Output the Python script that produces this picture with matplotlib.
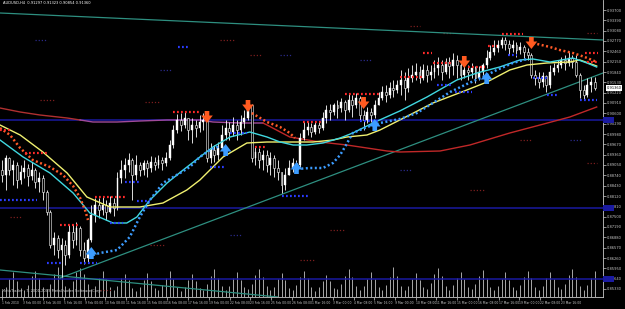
import numpy as np
import matplotlib
matplotlib.use("Agg")
import matplotlib.pyplot as plt
from matplotlib.patches import Rectangle
from matplotlib.transforms import blended_transform_factory

title = "AUDUSD,H4  0.91297 0.91323 0.90854 0.91360"
copyright_text = "MetaTrader - 7, 2001-2009 MetaQuotes Software Corp."

first_open = 0.8890
close = [0.8875,0.8926,0.8890,0.8905,0.8860,0.8884,0.8896,0.8872,0.8890,0.8854,
         0.8866,0.8824,0.8764,0.8665,0.8686,0.8650,0.8665,0.8635,0.8704,0.8680,
         0.8716,0.8650,0.8626,0.8680,0.8755,0.8785,0.8770,0.8785,0.8764,0.8791,
         0.8776,0.8866,0.8890,0.8905,0.8920,0.8875,0.8905,0.8890,0.8911,0.8896,
         0.8914,0.8905,0.8920,0.8911,0.8926,0.8965,0.9010,0.9040,0.9025,0.9046,
         0.9010,0.9025,0.9016,0.9034,0.9040,0.8926,0.8950,0.8935,0.8956,0.8995,
         0.9016,0.9004,0.9025,0.9010,0.9034,0.9046,0.9085,0.8926,0.8944,0.8920,
         0.8935,0.8905,0.8926,0.8896,0.8884,0.8845,0.8875,0.8896,0.8911,0.8905,
         0.8986,0.9010,0.9019,0.9004,0.9025,0.9016,0.9046,0.9070,0.9064,0.9085,
         0.9076,0.9094,0.9070,0.9100,0.9085,0.9106,0.9055,0.9040,0.9064,0.9055,
         0.9085,0.9106,0.9124,0.9115,0.9136,0.9130,0.9145,0.9160,0.9136,0.9166,
         0.9175,0.9184,0.9166,0.9190,0.9175,0.9184,0.9196,0.9205,0.9184,0.9214,
         0.9202,0.9220,0.9205,0.9175,0.9190,0.9184,0.9196,0.9166,0.9184,0.9205,
         0.9226,0.9244,0.9256,0.9265,0.9280,0.9268,0.9256,0.9265,0.9250,0.9259,
         0.9244,0.9235,0.9175,0.9166,0.9154,0.9172,0.9145,0.9184,0.9196,0.9205,
         0.9220,0.9211,0.9226,0.9214,0.9175,0.9130,0.9115,0.9145,0.9154,0.9136]
high = [0.8920,0.8935,0.8929,0.8920,0.8914,0.8905,0.8920,0.8908,0.8914,0.8896,
        0.8884,0.8875,0.8830,0.8770,0.8704,0.8695,0.8686,0.8680,0.8725,0.8728,
        0.8734,0.8722,0.8674,0.8686,0.8785,0.8806,0.8806,0.8809,0.8800,0.8812,
        0.8806,0.8884,0.8920,0.8926,0.8941,0.8926,0.8935,0.8914,0.8920,0.8920,
        0.8932,0.8929,0.8935,0.8929,0.8944,0.8980,0.9025,0.9058,0.9061,0.9064,
        0.9046,0.9046,0.9040,0.9055,0.9061,0.9049,0.8971,0.8965,0.8974,0.9025,
        0.9040,0.9034,0.9049,0.9040,0.9055,0.9070,0.9100,0.9088,0.8959,0.8956,
        0.8950,0.8950,0.8944,0.8935,0.8920,0.8884,0.8896,0.8920,0.8926,0.8920,
        0.9001,0.9034,0.9034,0.9031,0.9034,0.9034,0.9064,0.9085,0.9088,0.9091,
        0.9100,0.9106,0.9100,0.9121,0.9115,0.9121,0.9112,0.9070,0.9079,0.9076,
        0.9100,0.9124,0.9142,0.9145,0.9154,0.9160,0.9160,0.9190,0.9184,0.9196,
        0.9205,0.9211,0.9202,0.9208,0.9205,0.9205,0.9220,0.9229,0.9220,0.9226,
        0.9229,0.9241,0.9235,0.9214,0.9214,0.9205,0.9211,0.9202,0.9202,0.9211,
        0.9250,0.9265,0.9280,0.9280,0.9289,0.9289,0.9280,0.9280,0.9274,0.9274,
        0.9265,0.9256,0.9241,0.9190,0.9184,0.9184,0.9175,0.9205,0.9211,0.9220,
        0.9229,0.9235,0.9244,0.9235,0.9235,0.9181,0.9145,0.9166,0.9169,0.9169]
low = [0.8854,0.8830,0.8875,0.8845,0.8836,0.8848,0.8866,0.8842,0.8860,0.8836,
       0.8824,0.8800,0.8755,0.8656,0.8635,0.8626,0.8569,0.8605,0.8626,0.8656,
       0.8665,0.8632,0.8608,0.8614,0.8674,0.8734,0.8746,0.8755,0.8740,0.8761,
       0.8752,0.8770,0.8851,0.8866,0.8884,0.8800,0.8860,0.8872,0.8875,0.8869,
       0.8884,0.8890,0.8896,0.8890,0.8902,0.8920,0.8956,0.9001,0.9007,0.9016,
       0.8980,0.8971,0.8989,0.9004,0.9010,0.8914,0.8911,0.8914,0.8920,0.8950,
       0.8980,0.8980,0.8992,0.8980,0.8995,0.9016,0.9040,0.8914,0.8905,0.8896,
       0.8890,0.8884,0.8875,0.8869,0.8860,0.8821,0.8830,0.8875,0.8884,0.8890,
       0.8900,0.8980,0.8995,0.8989,0.8998,0.9001,0.9010,0.9031,0.9040,0.9055,
       0.9046,0.9064,0.9040,0.9064,0.9049,0.9076,0.9040,0.9010,0.9031,0.9034,
       0.9046,0.9085,0.9100,0.9094,0.9106,0.9109,0.9121,0.9115,0.9100,0.9124,
       0.9154,0.9160,0.9151,0.9160,0.9154,0.9160,0.9166,0.9175,0.9160,0.9178,
       0.9166,0.9175,0.9166,0.9160,0.9166,0.9160,0.9166,0.9151,0.9160,0.9175,
       0.9196,0.9220,0.9235,0.9244,0.9256,0.9250,0.9235,0.9244,0.9229,0.9238,
       0.9226,0.9220,0.9166,0.9145,0.9136,0.9139,0.9124,0.9136,0.9175,0.9184,
       0.9196,0.9190,0.9202,0.9196,0.9169,0.9106,0.9100,0.9109,0.9124,0.9130]
volume = [220,350,610,820,540,300, 250,410,700,880,620,330, 280,450,760,990,700,380,
          310,520,840,960,760,420, 260,380,640,860,590,330, 230,360,620,780,560,310,
          200,340,580,800,520,290, 240,400,650,870,610,340, 210,330,560,760,540,300,
          250,420,700,930,650,360, 230,380,620,820,580,330, 270,440,720,950,680,370,
          220,350,590,790,560,310, 240,400,660,880,620,340, 200,320,540,740,520,290,
          260,430,700,920,660,360, 230,370,610,830,590,320, 250,410,680,1000,700,380,
          220,360,600,810,570,320, 280,460,760,960,690,380, 240,390,640,850,600,330,
          260,420,690,900,640,350, 230,370,610,820,580,320, 250,400,660,870,620,340,
          240,380,620,840,590,330, 270,440,720,940,670,360, 250,410,650,880]

# moving averages and trailing stops (bar index, price)
yellow_x = [-0.5,4.9,11,17.5,22.8,29,37,43.2,49.6,53.1,59.3,65.7,71.1,83.4,88.8,92.5,
            97.9,101.4,106.7,115.6,124.7,130.1,136.2,140.8,146.1,152.3,155,159.5]
yellow_y = [0.9025,0.8995,0.8944,0.8881,0.8809,0.8779,0.8779,0.8791,0.8830,0.8860,0.8929,
            0.8971,0.8974,0.8974,0.8980,0.8989,0.8995,0.9010,0.9040,0.9091,0.9130,0.9154,
            0.9190,0.9205,0.9211,0.9214,0.9220,0.9202]
cyan_x = [-0.5,5.7,12.9,19.1,23.6,29.8,33.5,36.2,39.7,44.3,48.6,53.1,56.6,61.2,66.5,71.1,
          74.6,78.1,81.8,86.1,90.7,94.1,99.5,106.7,114,122,127.4,133.5,138.9,142.4,147,
          153.1,156.9,159.5]
cyan_y = [0.8980,0.8929,0.8881,0.8821,0.8761,0.8731,0.8731,0.8749,0.8800,0.8851,0.8890,
          0.8929,0.8959,0.8989,0.9004,0.8989,0.8974,0.8965,0.8965,0.8971,0.8986,0.9001,
          0.9031,0.9067,0.9109,0.9160,0.9181,0.9199,0.9220,0.9223,0.9214,0.9226,0.9211,0.9199]
ma_red_x = [-0.5,4.9,10.2,17.5,21]
ma_red_y = [0.9076,0.9064,0.9055,0.9046,0.9040]
ma_violet_x = [21,24.4,30.9,37,44.3,53.1,56.6,63.8,70]
ma_violet_y = [0.9040,0.9034,0.9034,0.9037,0.9040,0.9040,0.9034,0.9031,0.9031]
ma_red2_x = [70,71.1,77.2,85.3,92.5,97.9,103.3,106.7,117.5,125.5,136.2,144.3,152.3,159.5]
ma_red2_y = [0.9031,0.9025,0.8989,0.8974,0.8965,0.8956,0.8947,0.8944,0.8947,0.8965,
             0.9001,0.9025,0.9049,0.9079]

stop_dn = [([-0.5,2.2,4.9,8.3,12.9,16.4,19.1,21,22.3,23.1],
            [0.9016,0.8995,0.8956,0.8920,0.8899,0.8875,0.8842,0.8806,0.8770,0.8740]),
           ([67,71.1,74.6,77.2,78.6], [0.9061,0.9034,0.9019,0.9001,0.8986]),
           ([142.4,147,149.6,153.1,156.3,159.5], [0.9271,0.9259,0.9250,0.9241,0.9229,0.9214])]
stop_up = [([24.4,26.3,30.9,34.3,37,39.7,43.2,47.8,50.4,53.1,55.8,58.5],
            [0.8635,0.8641,0.8650,0.8689,0.8749,0.8800,0.8851,0.8881,0.8899,0.8929,0.8950,0.8962]),
           ([79.1,82.6,86.1,88.8,90.7,92,94.1,97.9,101.4,106.7,111.3,115.6,120.2,124.7,129,
             132.7,137,140.8],
            [0.8893,0.8896,0.8896,0.8911,0.8935,0.8959,0.9001,0.9019,0.9031,0.9043,0.9061,
             0.9091,0.9124,0.9148,0.9169,0.9190,0.9211,0.9223])]

# fractal levels (start bar, end bar, price)
res_levels = [(-0.5,2.2,0.9010),(6.2,12.4,0.8941),(15.6,20.4,0.8725),(25,33.5,0.8809),
              (45.9,53.1,0.9064),(67.9,71.1,0.8959),(80.7,86.1,0.9034),(92,101.4,0.9118),
              (106.7,112.6,0.9169),(112.9,115.3,0.9241),(115.6,121,0.9211),(125,129.5,0.9199),
              (130.3,132.7,0.9262),(134.1,139.7,0.9298),(156.3,159.8,0.9241),(156.9,159.5,0.9214)]
sup_levels = [(-0.5,9.4,0.8800),(12.1,16.1,0.8611),(21,25.5,0.8611),(29,32.5,0.8731),
              (33,37,0.8854),(36.2,39.7,0.8797),(55.8,59.8,0.8899),(61.2,65.7,0.9001),
              (75.1,82.1,0.8812),(96,101.4,0.9037),(116.7,121,0.9145),(121.5,126.1,0.9124),
              (135.7,138.1,0.9235),(142.4,146.1,0.9166),(146.1,148.8,0.9115),(155,159.5,0.9100),
              (47.2,49.9,0.9259)]
dim_red = [(10.2,14.2,0.9100),(38.4,42.4,0.9094),(2.2,5.4,0.8749),(39.7,43.7,0.8665),
           (58.5,62.5,0.9280),(79.9,84,0.8620),(109.4,112.1,0.9322),(118.3,121,0.9301),
           (156.9,159.5,0.8911),(156.9,159.5,0.9301),(88,92,0.8710),(125.5,129.5,0.8830),
           (66.5,69.7,0.9235),(26.3,29.5,0.8530),(138.9,142.1,0.8980)]
dim_blue = [(42.4,45.6,0.9190),(96,99.2,0.9220),(106.7,110,0.8890),(61.2,64.4,0.8695),
            (8.9,12.1,0.9280),(152.3,155.5,0.8980),(74.6,77.8,0.9235)]

h_lines = [0.9040, 0.8776, 0.8563]
trend_lines = [((-0.5,161.2),(0.9361,0.9280)), ((-0.5,74),(0.8590,0.8509)),
               ((15.6,161.2),(0.8566,0.9181))]

down_arrows_x = [55, 66, 97, 124, 142]
down_arrows_y = [0.9049, 0.9082, 0.9091, 0.9214, 0.9271]
up_arrows_x = [24, 60, 79, 100, 130]
up_arrows_y = [0.8641, 0.8950, 0.8896, 0.9025, 0.9166]

time_labels = ["1 Feb 2010","3 Feb 00:00","4 Feb 16:00","5 Feb 16:00","9 Feb 00:00",
               "10 Feb 08:00","11 Feb 16:00","15 Feb 00:00","16 Feb 08:00","17 Feb 16:00",
               "19 Feb 00:00","22 Feb 08:00","23 Feb 16:00","25 Feb 00:00","26 Feb 08:00",
               "1 Mar 16:00","3 Mar 00:00","4 Mar 08:00","5 Mar 16:00","9 Mar 00:00",
               "10 Mar 08:00","11 Mar 16:00","15 Mar 00:00","16 Mar 08:00","17 Mar 16:00",
               "19 Mar 00:00","22 Mar 08:00","23 Mar 16:00"]

n = len(close)
idx = np.arange(n)
opens = np.array([first_open] + close[:-1])
close = np.array(close)

fig = plt.figure(figsize=(6.25, 3.09), dpi=100, facecolor="black")
pos = [0.0, 12 / 309, 603 / 625, 297 / 309]
xlim = (-0.5, 161.2)
fs = 2.6

axv = fig.add_axes(pos, label="vol", zorder=0)
axv.set_facecolor("black")
axv.vlines(idx, 0, volume, color="#a8a8a8", lw=0.7)
axv.set_xlim(xlim)
axv.set_ylim(0, 9900)
axv.axis("off")

ax = fig.add_axes(pos, label="main", zorder=1)
ax.set_facecolor("none")
ax.set_xlim(xlim)
ax.set_ylim(0.8509, 0.9400)

for x0, x1, p in dim_red:
    ax.plot([x0, x1], [p, p], color="#7a1e1e", lw=0.9, ls=(0, (1, 1.5)))
for x0, x1, p in dim_blue:
    ax.plot([x0, x1], [p, p], color="#2a2a88", lw=0.9, ls=(0, (1, 1.5)))

for p in h_lines:
    ax.axhline(p, color="#1a1aa0", lw=1.1)
for xs, ys in trend_lines:
    ax.plot(xs, ys, color="#2e8f80", lw=0.9)

ax.plot(ma_red_x, ma_red_y, color="#b03030", lw=1.0)
ax.plot(ma_violet_x, ma_violet_y, color="#a04a9a", lw=1.0)
ax.plot(ma_red2_x, ma_red2_y, color="#c02828", lw=1.0)

# candles
ax.vlines(idx, low, high, color="white", lw=0.6, zorder=3)
up = close >= opens
body_lo = np.minimum(opens, close)
body_h = np.maximum(np.abs(close - opens), 0.00012)
ax.bar(idx[up], body_h[up], bottom=body_lo[up], width=0.5, color="white",
       edgecolor="white", lw=0.3, zorder=4)
ax.bar(idx[~up], body_h[~up], bottom=body_lo[~up], width=0.5, color="black",
       edgecolor="white", lw=0.4, zorder=4)

ax.plot(yellow_x, yellow_y, color="#f0f070", lw=1.0, zorder=5)
ax.plot(cyan_x, cyan_y, color="#40d8e0", lw=1.0, zorder=5)

for xs, ys in stop_dn:
    ax.plot(xs, ys, color="#ff5a28", lw=1.8, ls=(0, (0.8, 1.0)), zorder=6)
for xs, ys in stop_up:
    ax.plot(xs, ys, color="#3c9cff", lw=1.8, ls=(0, (0.8, 1.0)), zorder=6)

for x0, x1, p in res_levels:
    ax.plot([x0, x1], [p, p], color="#ff2a2a", lw=1.6, ls=(0, (0.8, 1.0)), zorder=6)
for x0, x1, p in sup_levels:
    ax.plot([x0, x1], [p, p], color="#2a3cff", lw=1.6, ls=(0, (0.8, 1.0)), zorder=6)

arrow_style = "simple,head_length=0.45,head_width=0.7,tail_width=0.28"
for x, p in zip(down_arrows_x, down_arrows_y):
    ax.annotate("", xy=(x, p - 0.0018), xytext=(x, p + 0.0018),
                arrowprops=dict(arrowstyle=arrow_style, color="#ff5a20", lw=0,
                                mutation_scale=12, shrinkA=0, shrinkB=0), zorder=7)
for x, p in zip(up_arrows_x, up_arrows_y):
    ax.annotate("", xy=(x, p + 0.0018), xytext=(x, p - 0.0018),
                arrowprops=dict(arrowstyle=arrow_style, color="#3c9cff", lw=0,
                                mutation_scale=12, shrinkA=0, shrinkB=0), zorder=7)

# axes styling like the terminal
for s in ["top", "left"]:
    ax.spines[s].set_visible(False)
for s in ["right", "bottom"]:
    ax.spines[s].set_color("#c8c8c8")
    ax.spines[s].set_linewidth(0.6)
ax.yaxis.tick_right()
yt = 0.9370 - 0.0031 * np.arange(28)
ax.set_yticks(yt)
ax.set_yticklabels(["%.5f" % v for v in yt])
ax.set_xticks(np.arange(len(time_labels)) * 5.55)
ax.set_xticklabels(time_labels, ha="left")
ax.tick_params(colors="#c8c8c8", labelsize=fs, length=2, width=0.5, pad=1)
ax.tick_params(axis="x", labelsize=2.2)

tr = blended_transform_factory(ax.transAxes, ax.transData)
ax.text(1.006, close[-1], "%.5f" % close[-1], transform=tr, fontsize=fs, color="black",
        va="center", ha="left", zorder=10,
        bbox=dict(facecolor="white", edgecolor="none", pad=0.5))
for p in h_lines:
    ax.add_patch(Rectangle((1.0, p - 0.0008), 0.018, 0.0016, transform=tr,
                           facecolor="#1a1aa0", edgecolor="none", clip_on=False, zorder=9))

ax.text(0.005, 0.995, title, transform=ax.transAxes, fontsize=fs, color="white",
        va="top", ha="left")
ax.text(0.004, 0.012, copyright_text, transform=ax.transAxes, fontsize=fs,
        color="#c8c8c8", va="bottom", ha="left", zorder=10)

fig.savefig("out.png", dpi=100, facecolor="black")
